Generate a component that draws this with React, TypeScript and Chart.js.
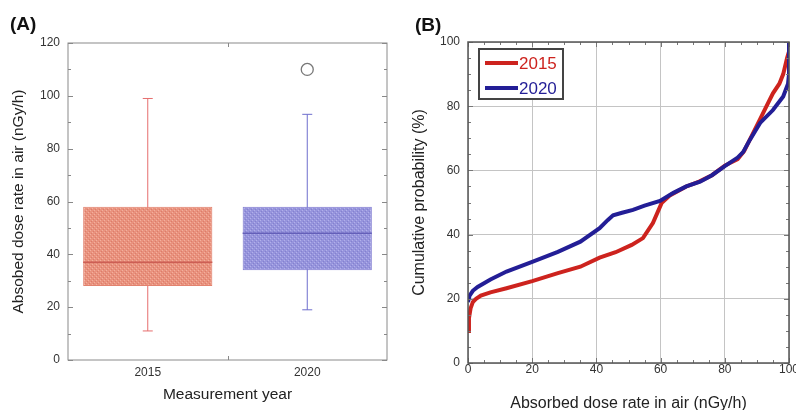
import React, { useEffect, useRef } from 'react';
import { Chart, registerables } from 'chart.js';

Chart.register(...registerables);

// ---------- Panel A data (box plot) ----------
const years = ['2015', '2020'];
const yearPos = [0, 1];
const boxMin = [11, 19];
const boxQ1 = [28, 34];
const boxMedian = [37, 48];
const boxQ3 = [58, 58];
const boxMax = [99, 93];
const outlierYearPos = [1];
const outlierValue = [110];
const doseTicksA = [0, 20, 40, 60, 80, 100, 120];

// ---------- Panel B data (cumulative probability) ----------
const dose2015 = [0, 0.3, 0.8, 1.5, 2.5, 4, 7, 12, 20, 28, 35, 41, 46, 51, 54.5, 57.6, 60.3, 63, 68, 72, 76, 80, 84, 86, 88, 91, 93, 95, 97, 98.2, 99.4, 100];
const cum2015 = [10, 14, 17, 19, 20, 21, 22, 23.3, 25.5, 28, 30, 32.8, 34.5, 36.8, 38.9, 43.6, 49.8, 52.3, 55, 56.5, 58.5, 61.5, 63.5, 66, 70, 76, 80, 84, 87, 90, 95, 97];
const dose2020 = [0, 0.5, 1.5, 3, 7, 12, 20, 28, 35, 41, 43.5, 45.2, 48, 51.4, 55, 59.8, 64, 68, 72.3, 76, 80, 84, 85.7, 87.8, 91, 95, 98.2, 99.7, 100, 100];
const cum2020 = [19, 21, 22.5, 23.7, 26, 28.5, 31.5, 34.6, 37.8, 42, 44.5, 46, 46.8, 47.7, 49, 50.5, 53, 55, 56.5, 58.5, 61.3, 64, 65.7, 69.5, 74.8, 78.8, 83, 87, 90, 100];
const seriesLabels = ['2015', '2020'];

const BOX_RATIO = 0.81;
const RED_LINE = 'rgb(205,35,30)';
const BLUE_LINE = 'rgb(35,30,150)';

function makePattern(base: string, light: string, dark: string) {
  const c = document.createElement('canvas');
  c.width = 4;
  c.height = 4;
  const g = c.getContext('2d')!;
  g.fillStyle = base;
  g.fillRect(0, 0, 4, 4);
  g.fillStyle = light;
  g.fillRect(0, 0, 1, 1);
  g.fillRect(2, 2, 1, 1);
  g.fillStyle = dark;
  g.fillRect(1, 3, 1, 1);
  g.fillRect(3, 1, 1, 1);
  return g.createPattern(c, 'repeat')!;
}

const frameTicks = {
  id: 'frameTicks',
  afterDraw(chart: any, _args: any, opts: any) {
    if (!opts || !opts.enabled) return;
    const { ctx, chartArea: a, scales } = chart;
    ctx.save();
    ctx.strokeStyle = opts.color;
    ctx.lineWidth = 1;
    const xs = scales.x;
    const ys = scales.y;
    for (const t of opts.xTicks as { v: number; len: number }[]) {
      const px = Math.round(xs.getPixelForValue(t.v)) + 0.5;
      ctx.beginPath();
      ctx.moveTo(px, a.top);
      ctx.lineTo(px, a.top + t.len);
      ctx.moveTo(px, a.bottom);
      ctx.lineTo(px, a.bottom - t.len);
      ctx.stroke();
    }
    for (const t of opts.yTicks as { v: number; len: number }[]) {
      const py = Math.round(ys.getPixelForValue(t.v)) + 0.5;
      ctx.beginPath();
      ctx.moveTo(a.left, py);
      ctx.lineTo(a.left + t.len, py);
      ctx.moveTo(a.right, py);
      ctx.lineTo(a.right - t.len, py);
      ctx.stroke();
    }
    ctx.lineWidth = opts.width;
    ctx.strokeStyle = opts.frameColor;
    ctx.strokeRect(a.left, a.top, a.right - a.left, a.bottom - a.top);
    ctx.restore();
  },
};

const panelLabel = {
  id: 'panelLabel',
  afterDraw(chart: any, _args: any, opts: any) {
    if (!opts || !opts.text) return;
    const { ctx } = chart;
    ctx.save();
    ctx.font = 'bold 19px "Liberation Sans", Arial, sans-serif';
    ctx.fillStyle = '#111';
    ctx.textBaseline = 'middle';
    ctx.textAlign = 'left';
    ctx.fillText(opts.text, opts.x, opts.y);
    ctx.restore();
  },
};

const boxLegend = {
  id: 'boxLegend',
  afterDraw(chart: any, _args: any, opts: any) {
    if (!opts || !opts.enabled) return;
    const { ctx, chartArea: a } = chart;
    const left = a.left + opts.dx;
    const top = a.top + opts.dy;
    ctx.save();
    ctx.fillStyle = '#fff';
    ctx.fillRect(left, top, opts.w, opts.h);
    ctx.strokeStyle = '#444';
    ctx.lineWidth = 2;
    ctx.strokeRect(left, top, opts.w, opts.h);
    ctx.font = '17px "Liberation Sans", Arial, sans-serif';
    ctx.textBaseline = 'middle';
    ctx.textAlign = 'left';
    chart.data.datasets.forEach((ds: any, i: number) => {
      const y = top + opts.rowY[i];
      ctx.strokeStyle = ds.borderColor;
      ctx.lineWidth = 4;
      ctx.beginPath();
      ctx.moveTo(left + 6, y);
      ctx.lineTo(left + 39, y);
      ctx.stroke();
      ctx.fillStyle = ds.borderColor;
      ctx.fillText(ds.label, left + 40, y + 1);
    });
    ctx.restore();
  },
};

Chart.register(frameTicks, panelLabel, boxLegend);

const FONT_FAMILY = '"Liberation Sans", Arial, sans-serif';
const tickFont = { family: FONT_FAMILY, size: 12 };
const titleFontA = { family: FONT_FAMILY, size: 15.5 };
const titleFontB = { family: FONT_FAMILY, size: 16 };

function range(min: number, max: number, step: number) {
  const out: number[] = [];
  for (let v = min; v <= max + 1e-9; v += step) out.push(v);
  return out;
}

function PanelA() {
  const ref = useRef<HTMLCanvasElement>(null);
  useEffect(() => {
    const ctx = ref.current!.getContext('2d')!;
    const fills = [
      makePattern('rgb(233,146,126)', 'rgb(243,176,158)', 'rgb(220,125,106)'),
      makePattern('rgb(150,148,220)', 'rgb(178,176,234)', 'rgb(132,129,207)'),
    ];
    const boxBorders = ['rgb(226,130,110)', 'rgb(130,126,210)'];
    const medianColors = ['rgb(205,95,85)', 'rgb(100,95,185)'];
    const whiskerColors = ['rgb(230,110,110)', 'rgb(110,110,205)'];

    const datasets: any[] = [
      {
        type: 'bar',
        data: yearPos.map((x, i) => ({ x, y: [boxQ1[i], boxQ3[i]] })),
        backgroundColor: fills,
        borderColor: boxBorders,
        borderWidth: 1,
        borderSkipped: false,
        grouped: false,
        barPercentage: 0.9,
        categoryPercentage: 0.9,
        order: 1,
      },
    ];
    yearPos.forEach((x, i) => {
      datasets.push({
        type: 'line',
        data: [
          { x, y: boxMin[i] },
          { x, y: boxMax[i] },
        ],
        borderColor: whiskerColors[i],
        borderWidth: 1,
        pointRadius: 0,
        order: 3,
      });
      datasets.push({
        type: 'scatter',
        data: [
          { x, y: boxMin[i] },
          { x, y: boxMax[i] },
        ],
        pointStyle: 'line',
        pointRadius: 5,
        borderColor: whiskerColors[i],
        borderWidth: 1,
        order: 3,
      });
      datasets.push({
        type: 'line',
        data: [
          { x: x - BOX_RATIO / 2, y: boxMedian[i] },
          { x: x + BOX_RATIO / 2, y: boxMedian[i] },
        ],
        borderColor: medianColors[i],
        borderWidth: 1.5,
        pointRadius: 0,
        order: 0,
      });
    });
    datasets.push({
      type: 'scatter',
      data: outlierYearPos.map((x, i) => ({ x, y: outlierValue[i] })),
      pointStyle: 'circle',
      pointRadius: 6,
      borderColor: '#777',
      backgroundColor: '#fff',
      borderWidth: 1.3,
      order: 0,
    });

    const chart = new Chart(ctx, {
      type: 'bar',
      data: { datasets },
      options: {
        animation: false,
        responsive: false,
        devicePixelRatio: 1,
        layout: { padding: { top: 43, right: 11, left: 0, bottom: 0 } },
        plugins: {
          legend: { display: false },
          tooltip: { enabled: false },
          frameTicks: {
            enabled: true,
            color: '#888',
            frameColor: '#8a8a8a',
            width: 1,
            xTicks: [{ v: 0.5, len: 4 }],
            yTicks: range(0, 120, 10).map((v) => ({ v, len: v % 20 === 0 ? 5 : 3 })),
          },
          panelLabel: { text: '(A)', x: 10, y: 25 },
        } as any,
        scales: {
          x: {
            type: 'linear',
            offset: false,
            min: -0.5,
            max: 1.5,
            afterBuildTicks: (s: any) => {
              s.ticks = yearPos.map((v) => ({ value: v }));
            },
            afterFit: (s: any) => {
              s.height = 50;
              s.paddingLeft = 0;
              s.paddingRight = 0;
            },
            grid: { display: false, drawTicks: false, offset: false },
            border: { display: false },
            ticks: {
              autoSkip: false,
              maxRotation: 0,
              padding: 5,
              color: '#333',
              font: tickFont,
              callback: (v: any) => years[yearPos.indexOf(Number(v))] ?? '',
            },
            title: {
              display: true,
              text: 'Measurement year',
              color: '#222',
              font: titleFontA,
              padding: { top: 0, bottom: 6 },
            },
          },
          y: {
            min: 0,
            max: 120,
            afterBuildTicks: (s: any) => {
              s.ticks = doseTicksA.map((v) => ({ value: v }));
            },
            afterFit: (s: any) => {
              s.width = 68;
            },
            grid: { display: false, drawTicks: false },
            border: { display: false },
            ticks: { padding: 8, color: '#333', font: tickFont },
            title: {
              display: true,
              text: 'Absobed dose rate in air (nGy/h)',
              color: '#222',
              font: titleFontA,
              padding: { top: 9, bottom: 0 },
            },
          },
        },
      } as any,
    });
    return () => chart.destroy();
  }, []);
  return (
    <canvas
      ref={ref}
      width={398}
      height={410}
      style={{ position: 'absolute', left: 0, top: 0, width: 398, height: 410 }}
    />
  );
}

function PanelB() {
  const ref = useRef<HTMLCanvasElement>(null);
  useEffect(() => {
    const ctx = ref.current!.getContext('2d')!;
    const chart = new Chart(ctx, {
      type: 'line',
      data: {
        datasets: [
          {
            label: seriesLabels[0],
            data: dose2015.map((x, i) => ({ x, y: cum2015[i] })),
            borderColor: RED_LINE,
            borderWidth: 4,
            pointRadius: 0,
            tension: 0,
            order: 2,
          },
          {
            label: seriesLabels[1],
            data: dose2020.map((x, i) => ({ x, y: cum2020[i] })),
            borderColor: BLUE_LINE,
            borderWidth: 4,
            pointRadius: 0,
            tension: 0,
            order: 1,
          },
        ],
      },
      options: {
        animation: false,
        responsive: false,
        devicePixelRatio: 1,
        layout: { padding: { top: 42, right: 7, left: 0, bottom: 0 } },
        plugins: {
          legend: { display: false },
          tooltip: { enabled: false },
          frameTicks: {
            enabled: true,
            color: '#777',
            frameColor: '#555',
            width: 1.5,
            xTicks: range(0, 100, 5).map((v) => ({ v, len: v % 20 === 0 ? 5 : 3 })),
            yTicks: range(0, 100, 5).map((v) => ({ v, len: v % 20 === 0 ? 5 : 3 })),
          },
          panelLabel: { text: '(B)', x: 17, y: 26 },
          boxLegend: { enabled: true, dx: 11, dy: 7, w: 84, h: 50, rowY: [14, 39] },
        } as any,
        scales: {
          x: {
            type: 'linear',
            min: 0,
            max: 100,
            afterFit: (s: any) => {
              s.height = 47;
              s.paddingLeft = 0;
              s.paddingRight = 0;
            },
            grid: { color: '#c4c4c4', lineWidth: 1, drawTicks: false },
            border: { display: false },
            ticks: { stepSize: 20, padding: -1, color: '#333', font: tickFont, maxRotation: 0 },
            title: {
              display: true,
              text: 'Absorbed dose rate in air (nGy/h)',
              color: '#222',
              font: titleFontB,
              padding: { top: 0, bottom: -3 },
            },
          },
          y: {
            min: 0,
            max: 100,
            afterFit: (s: any) => {
              s.width = 70;
            },
            grid: { color: '#c4c4c4', lineWidth: 1, drawTicks: false },
            border: { display: false },
            ticks: { stepSize: 20, padding: 8, color: '#333', font: tickFont },
            title: {
              display: true,
              text: 'Cumulative probability (%)',
              color: '#222',
              font: titleFontB,
              padding: { top: 12, bottom: 0 },
            },
          },
        },
      } as any,
    });
    return () => chart.destroy();
  }, []);
  return (
    <canvas
      ref={ref}
      width={398}
      height={410}
      style={{ position: 'absolute', left: 398, top: 0, width: 398, height: 410 }}
    />
  );
}

export default function App() {
  return (
    <div
      style={{
        position: 'absolute',
        left: 0,
        top: 0,
        width: 796,
        height: 410,
        background: '#fff',
        overflow: 'hidden',
      }}
    >
      <PanelA />
      <PanelB />
    </div>
  );
}
